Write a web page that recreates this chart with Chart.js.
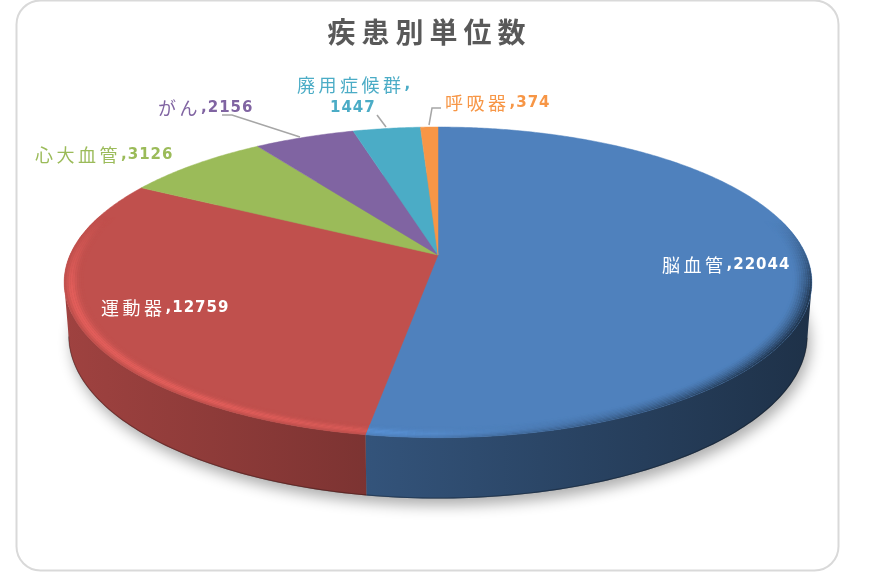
<!DOCTYPE html>
<html>
<head>
<meta charset="utf-8">
<style>
  html, body { margin: 0; padding: 0; background: #fff; }
  canvas { display: block; }
</style>
<script src="https://cdn.jsdelivr.net/npm/chart.js@4/dist/chart.umd.min.js"></script>
</head>
<body>
<canvas id="pie" width="877" height="572"></canvas>
<script>
// data
let chartTitle = '疾患別単位数'
let categories = ['脳血管', '運動器', '心大血管', 'がん', '廃用症候群', '呼吸器']
let unitCounts = [22044, 12759, 3126, 2156, 1447, 374]
let sliceColors = ['#4f81bd', '#c0504d', '#9bbb59', '#8064a2', '#4bacc6', '#f79646']
let labelColors = ['#ffffff', '#ffffff', '#9bbb59', '#8064a2', '#4bacc6', '#f79646']

// label layout: x, y, and where the number goes if it wraps to its own line
let labelSpots = [[662, 265], [101, 308], [35, 155], [158, 108], [297, 85, 330, 108], [445, 103]]
let leaderLines = [
  [[222, 115], [232, 115], [300, 137]],
  [[377, 115], [386, 127]],
  [[441, 108], [432, 108], [429, 125]]
]

// perspective of the tilted disc
let cx = 438, cy = 255, radiusX = 368, radiusY = 150.5, tilt = 0.176
let depth = 52, bottomScale = 0.988
let step = Math.PI / 180

function topPoint(angle, r) {
  let u = Math.cos(angle) * r, v = Math.sin(angle) * r
  let w = 1 - tilt * v
  return [cx + radiusX * u / w, cy + radiusY * v / w]
}

function bottomPoint(angle) {
  let u = Math.cos(angle), v = Math.sin(angle)
  let w = 1 - tilt * v
  return [cx + bottomScale * radiusX * u / w, cy + (bottomScale * radiusY * v + depth) / w]
}

function rgb(hex) {
  return [1, 3, 5].map(i => parseInt(hex.substr(i, 2), 16))
}

function mix(c, target, amount) {
  return c.map((n, i) => n + (target[i] - n) * amount)
}

function css(c) {
  return 'rgb(' + c.map(Math.round).join(',') + ')'
}

function clamp(n) {
  return Math.max(0, Math.min(1, n))
}

function arcAngles(arc, fine) {
  let angles = []
  for (let a = arc.startAngle; a < arc.endAngle; a += fine) angles.push(a)
  angles.push(arc.endAngle)
  return angles
}

function drawShadow(ctx) {
  ctx.save()
  ctx.shadowColor = 'rgba(0,0,0,0.32)'
  ctx.shadowBlur = 14
  ctx.shadowOffsetX = 3
  ctx.shadowOffsetY = 7
  ctx.fillStyle = '#888'
  ctx.beginPath()
  for (let a = 0; a < Math.PI * 2; a += step) {
    let p = bottomPoint(a)
    ctx.lineTo(p[0], p[1])
  }
  ctx.closePath()
  ctx.fill()
  ctx.restore()
}

function drawWall(ctx, arc, base) {
  // only the part facing us, from the widest point of the disc round the front
  let angles = arcAngles(arc, step).filter(a => Math.sin(a) >= tilt)
  if (angles.length < 2) return

  let gradient = ctx.createLinearGradient(64, 0, 812, 0)
  gradient.addColorStop(0, css(base.map(n => n * 0.83)))
  gradient.addColorStop(1, css(base.map(n => n * 0.38)))

  ctx.fillStyle = gradient
  ctx.beginPath()
  angles.forEach(a => {
    let p = topPoint(a, 1)
    ctx.lineTo(p[0], p[1])
  })
  angles.slice().reverse().forEach(a => {
    let p = bottomPoint(a)
    ctx.lineTo(p[0], p[1])
  })
  ctx.closePath()
  ctx.fill()

  // dark line along the foot of the wall
  ctx.strokeStyle = 'rgba(0,0,0,0.25)'
  ctx.lineWidth = 1.2
  ctx.beginPath()
  angles.forEach(a => {
    let p = bottomPoint(a)
    ctx.lineTo(p[0], p[1] - 0.5)
  })
  ctx.stroke()
}

function drawFace(ctx, arc, base) {
  ctx.fillStyle = css(base)
  ctx.strokeStyle = css(base)
  ctx.lineWidth = 0.5
  ctx.beginPath()
  ctx.moveTo(cx, cy)
  arcAngles(arc, step / 2).forEach(a => {
    let p = topPoint(a, 1)
    ctx.lineTo(p[0], p[1])
  })
  ctx.closePath()
  ctx.fill()
  ctx.stroke()
}

// soft bevel round the rim: light on the left, dark on the right.
// rings go outside in, each one a filled band that covers the last
function drawRim(ctx, arc, base) {
  let rings = 9, inner = 0.95
  let bright = base.map(n => Math.min(255, n * 1.3))
  for (let a = arc.startAngle; a < arc.endAngle; a += step) {
    let next = Math.min(a + step * 1.3, arc.endAngle)
    let u = Math.cos(a), v = Math.sin(a)
    let front = clamp((v + 0.25) / 0.5)
    if (front == 0) continue
    let light = clamp(0.5 - u * 0.9) * front
    let dark = clamp(u * 1.1 + 0.1) * front
    for (let j = rings - 1; j >= 0; j--) {
      let t = (j + 0.5) / rings
      let r1 = inner + (1 - inner) * j / rings
      let r2 = inner + (1 - inner) * (j + 1) / rings
      let bump = Math.pow(Math.sin(Math.PI * Math.pow(t, 1.5)), 2)
      let c = mix(base, bright, 0.6 * light * bump)
      c = mix(c, [0, 0, 0], 0.6 * dark * Math.pow(t, 1.5))
      let p1 = topPoint(a, r1), p2 = topPoint(next, r1), p3 = topPoint(next, r2), p4 = topPoint(a, r2)
      ctx.fillStyle = css(c)
      ctx.beginPath()
      ctx.moveTo(p1[0], p1[1])
      ctx.lineTo(p2[0], p2[1])
      ctx.lineTo(p3[0], p3[1])
      ctx.lineTo(p4[0], p4[1])
      ctx.closePath()
      ctx.fill()
    }
  }
}

function drawLabel(ctx, i) {
  let spot = labelSpots[i]
  let number = String(unitCounts[i])
  ctx.fillStyle = labelColors[i]
  ctx.textAlign = 'left'
  ctx.textBaseline = 'middle'

  ctx.font = '18px "Noto Sans CJK JP"'
  ctx.letterSpacing = '3.5px'
  ctx.fillText(categories[i], spot[0], spot[1])
  let nameWidth = ctx.measureText(categories[i]).width

  ctx.font = 'bold 15px "DejaVu Sans"'
  ctx.letterSpacing = '1px'
  if (spot.length > 2) {
    ctx.fillText(',', spot[0] + nameWidth, spot[1])
    ctx.fillText(number, spot[2], spot[3])
  } else {
    ctx.fillText(',' + number, spot[0] + nameWidth, spot[1])
  }
  ctx.letterSpacing = '0px'
}

let tiltedPie = {
  id: 'tiltedPie',
  beforeDraw(chart) {
    let ctx = chart.ctx
    ctx.save()
    ctx.strokeStyle = '#d9d9d9'
    ctx.lineWidth = 2
    ctx.beginPath()
    ctx.roundRect(16.5, 0.5, 822, 570, 24)
    ctx.stroke()
    ctx.restore()
    // picked up by the title box, which draws right after this
    ctx.letterSpacing = '6px'
  },
  beforeDatasetsDraw(chart) {
    let ctx = chart.ctx
    let arcs = chart.getDatasetMeta(0).data
    ctx.letterSpacing = '0px'
    ctx.save()
    drawShadow(ctx)
    arcs.forEach((arc, i) => drawWall(ctx, arc, rgb(sliceColors[i])))
    arcs.forEach((arc, i) => drawFace(ctx, arc, rgb(sliceColors[i])))
    arcs.forEach((arc, i) => drawRim(ctx, arc, rgb(sliceColors[i])))

    ctx.strokeStyle = '#a6a6a6'
    ctx.lineWidth = 1.5
    leaderLines.forEach(line => {
      ctx.beginPath()
      line.forEach(p => ctx.lineTo(p[0], p[1]))
      ctx.stroke()
    })
    categories.forEach((name, i) => drawLabel(ctx, i))
    ctx.restore()
    // the disc is drawn above, skip the flat one
    return false
  }
}

new Chart(document.getElementById('pie').getContext('2d'), {
  type: 'pie',
  data: {
    labels: categories,
    datasets: [{
      data: unitCounts,
      backgroundColor: sliceColors
    }]
  },
  options: {
    responsive: false,
    animation: false,
    events: [],
    layout: { padding: { right: 18 } },
    plugins: {
      legend: { display: false },
      tooltip: { enabled: false },
      title: {
        display: true,
        text: chartTitle,
        color: '#595959',
        font: { family: '"Noto Sans CJK JP"', size: 28, weight: 'bold' },
        padding: { top: 16, bottom: 10 }
      }
    }
  },
  plugins: [tiltedPie]
})
</script>
</body>
</html>
